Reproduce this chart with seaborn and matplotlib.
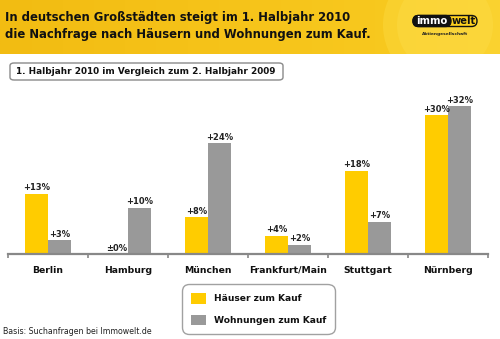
import numpy as np
import pandas as pd
import matplotlib
matplotlib.use("Agg")
import matplotlib.pyplot as plt
from matplotlib.patches import FancyBboxPatch, Circle
from matplotlib.colors import LinearSegmentedColormap
import seaborn as sns

# Data
cities = ["Berlin", "Hamburg", "München", "Frankfurt/Main", "Stuttgart", "Nürnberg"]
haeuser = [13, 0, 8, 4, 18, 30]
wohnungen = [3, 10, 24, 2, 7, 32]
series_names = ["Häuser zum Kauf", "Wohnungen zum Kauf"]
colors = ["#FFCC00", "#999999"]

title = "In deutschen Großstädten steigt im 1. Halbjahr 2010\ndie Nachfrage nach Häusern und Wohnungen zum Kauf."
subtitle = "1. Halbjahr 2010 im Vergleich zum 2. Halbjahr 2009"
source = "Basis: Suchanfragen bei Immowelt.de"

df = pd.DataFrame({
    "Stadt": cities * 2,
    "Wert": haeuser + wohnungen,
    "Reihe": [series_names[0]] * len(cities) + [series_names[1]] * len(cities),
})

sns.set_theme(style="white")
plt.rcParams["font.family"] = ["DejaVu Sans"]

W, H = 500, 339
fig = plt.figure(figsize=(W / 100, H / 100), dpi=100)


def fx(x):
    return x / W


def fy(y):
    return 1 - y / H


# Header banner with gradient
bax = fig.add_axes([0, fy(54), 1, 54 / H])
grad = np.linspace(0, 1, 256)[None, :]
cmap = LinearSegmentedColormap.from_list("banner", ["#F2BC12", "#F6C41A", "#F9CC22"])
bax.imshow(grad, aspect="auto", cmap=cmap, extent=[0, W, 54, 0])
bax.add_patch(Circle((445, 25), 62, color="#FFE04A", alpha=0.35, lw=0))
bax.add_patch(Circle((445, 25), 48, color="#FFE45A", alpha=0.25, lw=0))
bax.set_xlim(0, W)
bax.set_ylim(54, 0)
bax.axis("off")

# Logo
bax.add_patch(FancyBboxPatch((413, 15.5), 64, 11, boxstyle="round,pad=0,rounding_size=5.5",
                             fc="#FFD21E", ec="#111111", lw=1.0))
bax.add_patch(FancyBboxPatch((413, 15.5), 38, 11, boxstyle="round,pad=0,rounding_size=5.5",
                             fc="#111111", ec="#111111", lw=1.0))
bax.text(432, 21.3, "immo", color="white", fontsize=7.2, fontweight="bold",
         ha="center", va="center")
bax.text(464, 21.3, "welt", color="#111111", fontsize=7.2, fontweight="bold",
         ha="center", va="center")
bax.text(445, 33.5, "Aktiengesellschaft", color="#222222", fontsize=3.2,
         fontweight="bold", ha="center", va="center")

fig.text(fx(5), fy(26), title, fontsize=8.35, fontweight="bold", color="#111111",
         ha="left", va="center", linespacing=1.4)

# Subtitle box
fig.patches.append(FancyBboxPatch((fx(10), fy(80)), fx(273), 17 / H,
                                  boxstyle="round,pad=0,rounding_size=0.008",
                                  transform=fig.transFigure, fc="white", ec="#8a8a8a", lw=1.0))
fig.text(fx(146), fy(71.5), subtitle, fontsize=6.4, fontweight="bold", color="#111111",
         ha="center", va="center")

# Bar chart
ymax = 36
px_per_unit = 4.625
ax_h = ymax * px_per_unit
ax = fig.add_axes([fx(8), fy(254), fx(480), ax_h / H])
sns.barplot(data=df, x="Stadt", y="Wert", hue="Reihe", order=cities,
            hue_order=series_names, palette=colors, width=0.575, saturation=1,
            ax=ax, errorbar=None, edgecolor="none", linewidth=0)

for cont, vals in zip(ax.containers, [haeuser, wohnungen]):
    labels = ["±0%" if v == 0 else f"+{v}%" for v in vals]
    ax.bar_label(cont, labels=labels, padding=1, fontsize=6.0, fontweight="bold",
                 color="#222222")

ax.set_xlim(-0.5, len(cities) - 0.5)
ax.set_ylim(0, ymax)
ax.set_xlabel("")
ax.set_ylabel("")
ax.set_yticks([])
for s in ["top", "right", "left"]:
    ax.spines[s].set_visible(False)
ax.spines["bottom"].set_color("#888888")
ax.spines["bottom"].set_linewidth(1.6)
ax.set_xticks(np.arange(-0.5, len(cities)), minor=True)
ax.tick_params(axis="x", which="minor", direction="out", length=3, width=1.2,
               color="#888888", bottom=True)
ax.tick_params(axis="x", which="major", length=0, pad=8.5, labelsize=6.7)
for t in ax.get_xticklabels():
    t.set_fontweight("bold")
    t.set_color("#111111")

handles, labs = ax.get_legend_handles_labels()
ax.get_legend().remove()
leg = fig.legend(handles, labs, loc="upper left",
                 bbox_to_anchor=(fx(182), fy(284)), bbox_transform=fig.transFigure,
                 borderaxespad=0, frameon=True, fontsize=6.6,
                 handlelength=1.65, handleheight=1.45, labelspacing=1.2,
                 handletextpad=0.85, borderpad=0.95)
for t in leg.get_texts():
    t.set_fontweight("bold")
    t.set_color("#111111")
fr = leg.get_frame()
fr.set_edgecolor("#8a8a8a")
fr.set_linewidth(1.0)
fr.set_boxstyle("round,pad=0,rounding_size=0.8")

fig.text(fx(3), fy(332), source, fontsize=5.65, color="#222222", ha="left", va="center")

fig.savefig("out.png", dpi=100, facecolor="white")
